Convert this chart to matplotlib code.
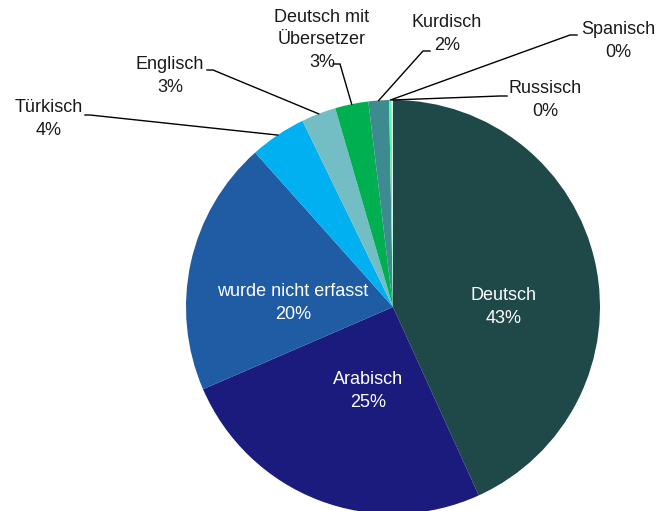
import matplotlib.pyplot as plt
import numpy as np

plt.rcParams["font.family"] = ["Liberation Sans", "DejaVu Sans"]

# Sprachen der Gespräche, Anteile in Prozent (im Uhrzeigersinn ab 12 Uhr)
languages = [
    "Deutsch", "Arabisch", "wurde nicht erfasst", "Türkisch", "Englisch",
    "Deutsch mit\nÜbersetzer", "Kurdisch", "Spanisch", "Russisch",
]
shares = [43.2, 25.3, 19.9, 4.4, 2.7, 2.6, 1.6, 0.2, 0.1]
colors = [
    "#1f4848", "#1b1b7e", "#1f5ca3", "#00b0f0", "#72bec4",
    "#00b050", "#3d8b91", "#4dff9f", "#e8f4ee",
]

# label placement in pixel coords (y downwards)
inside = {
    "Deutsch": (504, 307),
    "Arabisch": (368, 391),
    "wurde nicht erfasst": (293, 303),
}
outside = {
    # text centre, leader start, knee x
    "Türkisch": ((49, 119), (85, 115), 90),
    "Englisch": ((170, 76), (207, 70), 213),
    "Deutsch mit\nÜbersetzer": ((322, 40), (333, 64), 340),
    "Kurdisch": ((447, 34), (430, 51), 423),
    "Spanisch": ((618, 41), (577, 35), 570),
    "Russisch": ((545, 100), (507, 96), 500),
}

W, H = 660, 511
cx, cy, r = 393, 307, 207
FS = 13
LS = 1.42

fig = plt.figure(figsize=(W / 100, H / 100), dpi=100)
ax = fig.add_axes([0, 0, 1, 1])

# y axis is inverted, so counterclock=True draws clockwise on screen
wedges, _ = ax.pie(shares, colors=colors, startangle=-90, counterclock=True,
                   center=(cx, cy), radius=r, frame=True,
                   wedgeprops=dict(linewidth=0))
ax.set_xlim(0, W)
ax.set_ylim(H, 0)
ax.set_aspect("equal")
ax.axis("off")

pcts = [f"{v:.0f}%" for v in shares]
cum = np.cumsum([0] + shares)
for i, name in enumerate(languages):
    txt = f"{name}\n{pcts[i]}"
    if name in inside:
        tx, ty = inside[name]
        ax.text(tx, ty, txt, ha="center", va="center", color="white",
                fontsize=FS, linespacing=LS)
        continue
    (tx, ty), (lx, ly), kx = outside[name]
    ax.text(tx, ty, txt, ha="center", va="center", color="#1a1a1a",
            fontsize=FS, linespacing=LS)
    mid = (cum[i] + cum[i + 1]) / 2 / 100 * 2 * np.pi
    ex = cx + r * np.sin(mid)
    ey = cy - r * np.cos(mid)
    ax.plot([lx, kx, ex], [ly, ly, ey], color="black", lw=1.0,
            solid_joinstyle="miter")

fig.savefig("out.png", dpi=100)
